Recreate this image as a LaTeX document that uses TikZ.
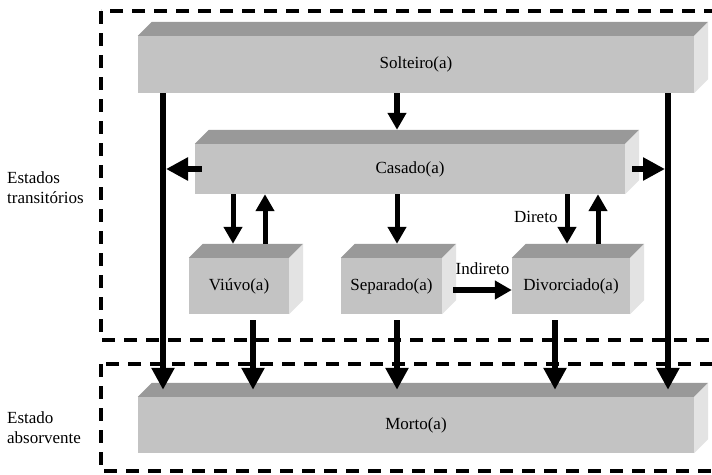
\documentclass[tikz,border=0pt]{standalone}
\usepackage{fontspec}
\setmainfont{Liberation Serif}
\usetikzlibrary{arrows.meta,calc}
\definecolor{frontc}{HTML}{C3C3C3}
\definecolor{topc}{HTML}{999999}
\definecolor{sidec}{HTML}{E3E3E3}
\begin{document}
\begin{tikzpicture}[x=1pt,y=-1pt,
  every node/.style={font=\fontsize{17}{20}\selectfont},
  box3d/.style={fill=frontc, inner sep=0pt},
  lbl/.style={inner sep=0pt, align=left},
  bigarr/.style={line width=6pt, -{Triangle[length=22pt,width=22pt]}},
  smallarr/.style={line width=5pt, -{Triangle[length=17pt,width=18pt]}},
  midarr/.style={line width=6pt, -{Triangle[length=17pt,width=18pt]}},
  dashbox/.style={line width=3.3pt, dash pattern=on 13pt off 9pt}]
\useasboundingbox (0,0) rectangle (712,474);
\begin{scope}
\clip (0,0) rectangle (712,474);
\draw[dashbox] (101,11) rectangle (740,340);
\draw[dashbox] (101,364) rectangle (740,471);
\end{scope}

% front faces
\node[box3d, minimum width=556pt, minimum height=57pt] (solt) at (416,64.5) {Solteiro(a)};
\node[box3d, minimum width=430pt, minimum height=50pt] (cas) at (410,169) {Casado(a)};
\node[box3d, minimum width=100pt, minimum height=56pt] (viu) at (239,286) {Viúvo(a)};
\node[box3d, minimum width=101pt, minimum height=56pt] (sep) at (391.5,286) {Separado(a)};
\node[box3d, minimum width=118pt, minimum height=56pt] (div) at (571,286) {Divorciado(a)};
\node[box3d, minimum width=556pt, minimum height=56pt] (morto) at (416,425) {Morto(a)};

% top and side faces
\foreach \n in {solt,cas,viu,sep,div,morto} {
  \fill[topc] (\n.north west) -- ++(14,-14) -- ($(\n.north east)+(14,-14)$) -- (\n.north east) -- cycle;
  \fill[sidec] (\n.north east) -- ++(14,-14) -- ($(\n.south east)+(14,-14)$) -- (\n.south east) -- cycle;
}

% side labels
\node[lbl, anchor=west] (lt) at (7,188) {Estados\\transitórios};
\node[lbl, anchor=west] (la) at (7,428) {Estado\\absorvente};

% arrows
\draw[bigarr] (163,0 |- solt.south) -- ($(163,0 |- morto.north)+(0,-7)$);
\draw[bigarr] (668,0 |- solt.south) -- ($(668,0 |- morto.north)+(0,-7)$);
\draw[midarr] (397,0 |- solt.south) -- ($(397,0 |- cas.north)+(0,-14)$);
\draw[bigarr] ($(cas.west)+(7,0)$) -- (166,0 |- cas.west);
\draw[bigarr] ($(cas.east)+(7,0)$) -- (665,0 |- cas.east);

\draw[smallarr] (233,0 |- cas.south) -- ($(233,0 |- viu.north)+(0,-14)$);
\draw[smallarr] ($(265,0 |- viu.north)+(0,-14)$) -- (265,0 |- cas.south);
\draw[smallarr] (397,0 |- cas.south) -- ($(397,0 |- sep.north)+(0,-14)$);
\draw[smallarr] (567,0 |- cas.south) -- ($(567,0 |- div.north)+(0,-14)$)
  node[lbl, pos=0.45, left=7pt] (dir) {Direto};
\draw[smallarr] ($(598,0 |- div.north)+(0,-14)$) -- (598,0 |- cas.south);

\draw[midarr] ($(sep.east)+(11,4)$) -- ($(div.west)+(0,4)$)
  node[lbl, pos=0.5, above=12pt] (ind) {Indireto};

\draw[bigarr] ($(253,0 |- viu.south)+(0,6)$) -- ($(253,0 |- morto.north)+(0,-7)$);
\draw[bigarr] ($(397,0 |- sep.south)+(0,6)$) -- ($(397,0 |- morto.north)+(0,-7)$);
\draw[bigarr] ($(555,0 |- div.south)+(0,6)$) -- ($(555,0 |- morto.north)+(0,-7)$);
\end{tikzpicture}
\end{document}
